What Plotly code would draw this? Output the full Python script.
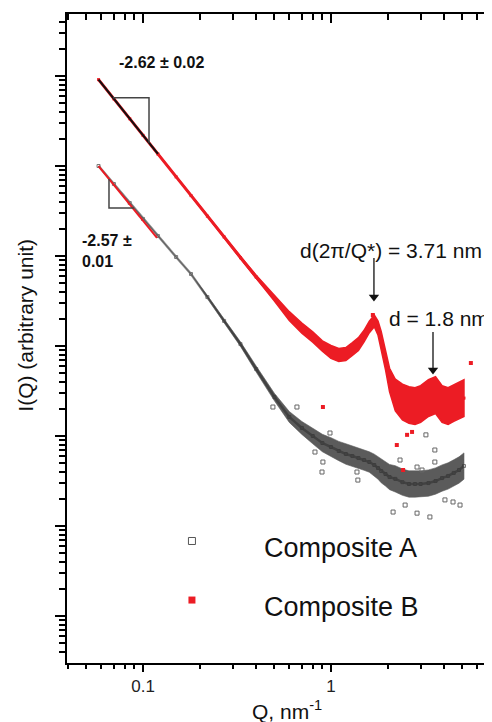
import math
import plotly.graph_objects as go

Q = [0.058, 0.07, 0.085, 0.1, 0.12, 0.15, 0.18, 0.22, 0.27, 0.33,
     0.4, 0.5, 0.6, 0.7, 0.8, 0.9, 1.0, 1.1, 1.2, 1.3,
     1.4, 1.5, 1.6, 1.7, 1.78, 1.85, 1.95, 2.05, 2.2, 2.4,
     2.6, 2.8, 3.0, 3.3, 3.6, 3.9, 4.2, 4.5, 4.8, 5.1]

# Composite B (red, filled squares): centre of the point cloud and its spread factor
I_B = [9.12e5, 5.57e5, 3.35e5, 2.19e5, 1.36e5, 7.57e4, 4.69e4, 2.77e4, 1.63e4, 9.57e3,
       5.84e3, 3.42e3, 2.15e3, 1.58e3, 1.26e3, 1.0e3, 858, 794, 815, 926,
       1050, 1290, 1630, 1900, 1580, 1170, 699, 419, 285, 239,
       221, 215, 227, 264, 285, 227, 215, 233, 251, 264]
SPREAD_B = [1.0, 1.0, 1.0, 1.0, 1.0, 1.0, 1.0, 1.0, 1.02, 1.03,
            1.05, 1.08, 1.12, 1.14, 1.14, 1.14, 1.18, 1.18, 1.18, 1.18,
            1.18, 1.16, 1.16, 1.16, 1.2, 1.24, 1.28, 1.35, 1.5, 1.58,
            1.6, 1.6, 1.6, 1.6, 1.6, 1.6, 1.6, 1.6, 1.6, 1.6]

# Composite A (black, open squares)
I_A = [1.0e5, 6.31e4, 3.88e4, 2.58e4, 1.67e4, 9.75e3, 6.31e3, 3.50e3, 1.90e3, 1.05e3,
       555, 271, 163, 123, 100, 83.6, 75.5, 68.1, 63.1, 59.9,
       56.9, 54.1, 51.4, 47.6, 44.1, 40.8, 37.8, 35.0, 33.4, 30.7,
       29.3, 29.3, 29.3, 30.0, 31.6, 34.1, 36.0, 38.9, 41.9, 46.4]
SPREAD_A = [1.0, 1.0, 1.0, 1.0, 1.0, 1.0, 1.0, 1.04, 1.05, 1.06,
            1.08, 1.1, 1.15, 1.18, 1.22, 1.25, 1.27, 1.28, 1.3, 1.3,
            1.3, 1.3, 1.3, 1.32, 1.33, 1.35, 1.36, 1.38, 1.4, 1.4,
            1.4, 1.4, 1.4, 1.4, 1.4, 1.4, 1.4, 1.4, 1.4, 1.4]

# Stray points outside the clouds
OUT_A_Q = [0.491, 0.659, 0.822, 0.896, 0.906, 0.988, 1.375, 1.39, 2.14, 2.33,
           2.87, 2.87, 3.20, 3.36, 3.57, 3.57, 4.46, 3.05, 2.48, 4.04, 4.86]
OUT_A_I = [210, 210, 66.4, 39.8, 51.4, 108, 39.8, 32.4, 14.3, 54.1,
           45.2, 13.9, 103, 12.6, 69.9, 51.4, 18.5, 41.9, 17.1, 19.5, 17.1]
OUT_B_Q = [0.906, 2.24, 2.54, 2.70, 2.42, 5.55, 1.67]
OUT_B_I = [210, 79.4, 103, 111, 41.9, 647, 2210]

# Power-law fits and slope triangles
FIT_B_Q, FIT_B_I = [0.058, 0.12], [9.12e5, 1.36e5]
FIT_A_Q, FIT_A_I = [0.058, 0.1187], [1.0e5, 1.587e4]
TRI_B_Q, TRI_B_I = [0.0692, 0.1076, 0.1076], [5.74e5, 5.74e5, 1.81e5]
TRI_A_Q, TRI_A_I = [0.0659, 0.0659, 0.0896], [7.19e4, 3.415e4, 3.415e4]

# Peak arrows: position, tail and head intensity
ARROW_Q = [1.693, 3.49]
ARROW_TAIL = [9506, 1430]
ARROW_HEAD = [3503, 541]

RED = "#ec1c24"
FONT = "Liberation Sans, Arial, sans-serif"

X_RANGE = [math.log10(0.0394), math.log10(7.19)]
Y_RANGE = [-0.522, 6.689]
X_MINOR = [m * 10 ** k for k in (-2, -1, 0) for m in range(2, 10)]
Y_MINOR = [m * 10 ** k for k in range(-1, 7) for m in range(2, 10)]

# the page body keeps its default 8px margin, so the figure is drawn 8px in
PAGE_PAD = 8


def cloud(q, i, s):
    """Closed outline of a point cloud from its centre and spread."""
    upper = [v * f for v, f in zip(i, s)]
    lower = [v / f for v, f in zip(i, s)]
    return q + q[::-1], upper + lower[::-1]


fig = go.Figure()

# Composite A
fig.add_trace(go.Scatter(x=Q, y=I_A, mode="lines+markers",
                         line=dict(color="#8c8c8c", width=2.5),
                         marker=dict(symbol="square-open", size=3, color="#777"),
                         hoverinfo="skip", showlegend=False))
cx, cy = cloud(Q, I_A, SPREAD_A)
fig.add_trace(go.Scatter(x=cx, y=cy, fill="toself", fillcolor="rgba(45,45,45,0.78)",
                         line=dict(color="rgba(90,90,90,0.6)", width=1),
                         mode="lines", hoverinfo="skip", showlegend=False))
fig.add_trace(go.Scatter(x=OUT_A_Q, y=OUT_A_I, mode="markers",
                         marker=dict(symbol="square-open", size=4, color="#666",
                                     line=dict(width=1)),
                         hoverinfo="skip", showlegend=False))

# Composite B
fig.add_trace(go.Scatter(x=Q, y=I_B, mode="lines+markers",
                         line=dict(color=RED, width=3),
                         marker=dict(symbol="square", size=3, color=RED),
                         hoverinfo="skip", showlegend=False))
cx, cy = cloud(Q, I_B, SPREAD_B)
fig.add_trace(go.Scatter(x=cx, y=cy, fill="toself", fillcolor=RED,
                         line=dict(color=RED, width=1.5),
                         mode="lines", hoverinfo="skip", showlegend=False))
fig.add_trace(go.Scatter(x=OUT_B_Q, y=OUT_B_I, mode="markers",
                         marker=dict(symbol="square", size=4, color=RED),
                         hoverinfo="skip", showlegend=False))

# fits (colours swapped for contrast) and slope triangles
fig.add_trace(go.Scatter(x=FIT_B_Q, y=FIT_B_I, mode="lines",
                         line=dict(color="#111", width=2),
                         hoverinfo="skip", showlegend=False))
fig.add_trace(go.Scatter(x=FIT_A_Q, y=FIT_A_I, mode="lines",
                         line=dict(color=RED, width=2),
                         hoverinfo="skip", showlegend=False))
for tq, ti in [(TRI_B_Q, TRI_B_I), (TRI_A_Q, TRI_A_I)]:
    fig.add_trace(go.Scatter(x=tq, y=ti, mode="lines",
                             line=dict(color="#444", width=1.5),
                             hoverinfo="skip", showlegend=False))

# peak arrows: shaft + head
for q, tail, head in zip(ARROW_Q, ARROW_TAIL, ARROW_HEAD):
    fig.add_trace(go.Scatter(x=[q, q], y=[tail, head], mode="lines",
                             line=dict(color="#111", width=1.3),
                             hoverinfo="skip", showlegend=False))
fig.add_trace(go.Scatter(x=ARROW_Q, y=ARROW_HEAD, mode="markers",
                         marker=dict(symbol="triangle-down", size=9, color="#111"),
                         hoverinfo="skip", showlegend=False))

# carrier for the top (mirror) axis
fig.add_trace(go.Scatter(x=FIT_B_Q, y=FIT_B_I, xaxis="x2", mode="lines",
                         line=dict(width=0), opacity=0,
                         hoverinfo="skip", showlegend=False))

tick_common = dict(tickcolor="black", tickwidth=1.5)
fig.update_layout(
    width=492 - PAGE_PAD, height=722 - PAGE_PAD,
    margin=dict(l=67 - PAGE_PAD, r=0, t=14 - PAGE_PAD, b=59, pad=0),
    paper_bgcolor="white", plot_bgcolor="white",
    font=dict(family=FONT, color="#111"),
    xaxis=dict(type="log", range=X_RANGE, showgrid=False, zeroline=False,
               showline=True, linecolor="black", linewidth=2,
               tickvals=[0.1, 1], ticktext=["0.1", "1"], ticks="outside",
               ticklen=7, tickfont=dict(size=17, color="#222"), automargin=False,
               minor=dict(tickvals=X_MINOR, ticks="outside", ticklen=4, **tick_common),
               **tick_common),
    xaxis2=dict(type="log", range=X_RANGE, overlaying="x", side="top", anchor="y",
                showgrid=False, zeroline=False, showline=True, linecolor="black",
                linewidth=2, tickvals=[0.1, 1], showticklabels=False,
                ticks="inside", ticklen=9, automargin=False,
                minor=dict(tickvals=X_MINOR, ticks="inside", ticklen=6, **tick_common),
                **tick_common),
    yaxis=dict(type="log", range=Y_RANGE, showgrid=False, zeroline=False,
               showline=True, linecolor="black", linewidth=2,
               tickvals=[10 ** k for k in range(0, 7)], showticklabels=False,
               ticks="outside", ticklen=10, automargin=False,
               minor=dict(tickvals=Y_MINOR, ticks="outside", ticklen=6, **tick_common),
               **tick_common),
)

lx = math.log10
annots = [
    dict(x=lx(0.1247), y=lx(1.43e6), text="<b>-2.62 ± 0.02</b>", xanchor="center",
         font=dict(size=16)),
    dict(x=lx(0.0462), y=lx(1.136e4), text="<b>-2.57 ±<br>0.01</b>", xanchor="left",
         align="left", font=dict(size=16)),
    dict(x=lx(0.6675), y=lx(1.166e4), text="d(2π/Q*) = 3.71 nm", xanchor="left",
         font=dict(size=21)),
    dict(x=lx(1.986), y=lx(2047), text="d = 1.8 nm", xanchor="left",
         font=dict(size=21)),
]
for a in annots:
    fig.add_annotation(xref="x", yref="y", showarrow=False, yanchor="middle", **a)

# axis titles
fig.add_annotation(xref="paper", yref="paper", x=0.518, y=-0.072,
                   text="Q, nm<sup>-1</sup>", showarrow=False,
                   font=dict(size=21), yanchor="middle")
fig.add_annotation(xref="paper", yref="paper", x=-0.097, y=0.521,
                   text="I(Q) (arbitrary unit)", showarrow=False, textangle=-90,
                   font=dict(size=21), xanchor="center", yanchor="middle")

# legend
fig.add_shape(type="rect", xref="paper", yref="paper", xsizemode="pixel",
              ysizemode="pixel", xanchor=0.294, yanchor=0.188,
              x0=-3.5, x1=3.5, y0=-3.5, y1=3.5,
              line=dict(color="#555", width=1), fillcolor="white")
fig.add_shape(type="rect", xref="paper", yref="paper", xsizemode="pixel",
              ysizemode="pixel", xanchor=0.294, yanchor=0.097,
              x0=-3.5, x1=3.5, y0=-3.5, y1=3.5,
              line=dict(color=RED, width=0), fillcolor=RED)
for yy, label in [(0.177, "Composite A"), (0.0863, "Composite B")]:
    fig.add_annotation(xref="paper", yref="paper", x=0.459, y=yy, text=label,
                       showarrow=False, xanchor="left", yanchor="middle",
                       font=dict(size=27, color="#111"))

fig.write_html("out.html")
